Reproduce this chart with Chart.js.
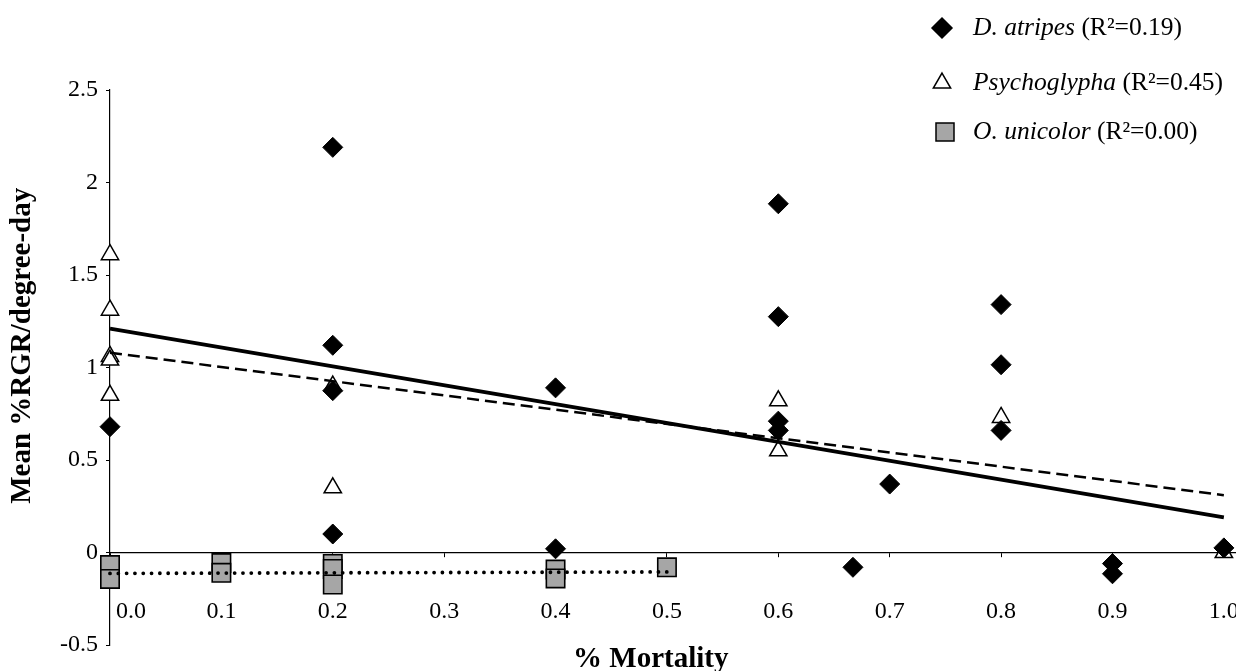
<!DOCTYPE html>
<html>
<head>
<meta charset="utf-8">
<script src="https://cdn.jsdelivr.net/npm/chart.js@4/dist/chart.umd.min.js"></script>
<style>
html,body{margin:0;padding:0;background:#ffffff;}
#wrap{width:1236px;height:671px;position:relative;}
</style>
</head>
<body>
<div id="wrap"><canvas id="c" width="1236" height="671"></canvas></div>
<script>
// ---- values ----
const atripesX = [0, 0.2, 0.2, 0.2, 0.2, 0.4, 0.4, 0.6, 0.6, 0.6, 0.6, 0.667, 0.7, 0.8, 0.8, 0.8, 0.9, 0.9, 1.0];
const atripesY = [0.68, 2.19, 1.12, 0.875, 0.10, 0.89, 0.02, 1.885, 1.275, 0.71, 0.66, -0.08, 0.37, 1.34, 1.015, 0.66, -0.06, -0.115, 0.025];
const psychoX = [0, 0, 0, 0, 0, 0.2, 0.2, 0.6, 0.6, 0.8, 1.0];
const psychoY = [1.61, 1.31, 1.06, 1.04, 0.85, 0.90, 0.35, 0.82, 0.55, 0.73, 0.0];
const unicolorX = [0, 0, 0.1, 0.1, 0.2, 0.2, 0.2, 0.4, 0.4, 0.5];
const unicolorY = [-0.068, -0.143, -0.057, -0.11, -0.062, -0.089, -0.173, -0.092, -0.14, -0.08];
const atripesTrendX = [0, 1.0];
const atripesTrendY = [1.21, 0.19];
const psychoTrendX = [0, 1.0];
const psychoTrendY = [1.08, 0.31];
const unicolorTrendX = [0, 0.5];
const unicolorTrendY = [-0.113, -0.105];
const xTickValues = [0, 0.1, 0.2, 0.3, 0.4, 0.5, 0.6, 0.7, 0.8, 0.9, 1.0];
const xTickLabels = ['0.0', '0.1', '0.2', '0.3', '0.4', '0.5', '0.6', '0.7', '0.8', '0.9', '1.0'];
const yTickValues = [-0.5, 0, 0.5, 1, 1.5, 2, 2.5];
const yTickLabels = ['-0.5', '0', '0.5', '1', '1.5', '2', '2.5'];
const seriesNames = ['D. atripes', 'Psychoglypha', 'O. unicolor'];
const seriesR2 = ['0.19', '0.45', '0.00'];
const xTitle = '% Mortality';
const yTitle = 'Mean %RGR/degree-day';

const pts = (xs, ys) => xs.map((x, i) => ({ x: x, y: ys[i] }));
const SERIF = '"Liberation Serif", "Times New Roman", Times, serif';
const squareFill = '#a6a6a6';

// legend with mixed italic / roman text
const legendPlugin = {
  id: 'customLegend',
  afterDraw(chart) {
    const ctx = chart.ctx;
    const markerX = 942, textX = 973;
    const rows = [28, 83, 132];
    ctx.save();
    rows.forEach((y, i) => {
      ctx.beginPath();
      ctx.lineWidth = 1.5;
      ctx.strokeStyle = '#000';
      if (i === 0) {
        const r = 10;
        ctx.moveTo(markerX - r, y); ctx.lineTo(markerX, y - r);
        ctx.lineTo(markerX + r, y); ctx.lineTo(markerX, y + r); ctx.closePath();
        ctx.fillStyle = '#000'; ctx.fill(); ctx.stroke();
      } else if (i === 1) {
        const r = 10;
        ctx.moveTo(markerX, y - r);
        ctx.lineTo(markerX + r * Math.sin(2 * Math.PI / 3), y - r * Math.cos(2 * Math.PI / 3));
        ctx.lineTo(markerX + r * Math.sin(4 * Math.PI / 3), y - r * Math.cos(4 * Math.PI / 3));
        ctx.closePath();
        ctx.fillStyle = '#fff'; ctx.fill(); ctx.stroke();
      } else {
        const h = 9;
        ctx.rect(markerX + 3 - h, y - h, 2 * h, 2 * h);
        ctx.fillStyle = squareFill; ctx.fill(); ctx.stroke();
      }
      ctx.fillStyle = '#000';
      ctx.textBaseline = 'middle';
      ctx.textAlign = 'left';
      ctx.font = 'italic 25.5px ' + SERIF;
      ctx.fillText(seriesNames[i], textX, y);
      const w = ctx.measureText(seriesNames[i]).width;
      ctx.font = '25.5px ' + SERIF;
      ctx.fillText(' (R\u00b2=' + seriesR2[i] + ')', textX + w, y);
    });
    ctx.restore();
  }
};

new Chart(document.getElementById('c'), {
  type: 'scatter',
  data: {
    datasets: [
      { label: 'O. unicolor trend', data: pts(unicolorTrendX, unicolorTrendY),
        showLine: true, pointRadius: 0, pointHoverRadius: 0,
        borderColor: '#000', borderWidth: 3.8, borderDash: [0.01, 8.3], borderCapStyle: 'round', clip: false },
      { label: 'D. atripes trend', data: pts(atripesTrendX, atripesTrendY),
        showLine: true, pointRadius: 0, pointHoverRadius: 0,
        borderColor: '#000', borderWidth: 3.8, clip: false },
      { label: 'Psychoglypha trend', data: pts(psychoTrendX, psychoTrendY),
        showLine: true, pointRadius: 0, pointHoverRadius: 0,
        borderColor: '#000', borderWidth: 2.5, borderDash: [12, 6], clip: false },
      { label: 'D. atripes', data: pts(atripesX, atripesY),
        pointStyle: 'rectRot', pointRadius: 10, pointHoverRadius: 10,
        backgroundColor: '#000', borderColor: '#000', borderWidth: 1, clip: false },
      { label: 'Psychoglypha', data: pts(psychoX, psychoY),
        pointStyle: 'triangle', pointRadius: 10, pointHoverRadius: 10,
        backgroundColor: '#fff', borderColor: '#000', borderWidth: 1.5, clip: false },
      { label: 'O. unicolor', data: pts(unicolorX, unicolorY),
        pointStyle: 'rect', pointRadius: 13, pointHoverRadius: 13,
        backgroundColor: squareFill, borderColor: '#000', borderWidth: 1.6, clip: false }
    ]
  },
  options: {
    responsive: false,
    animation: false,
    devicePixelRatio: 1,
    layout: { autoPadding: false, padding: { left: 0, right: 1, top: 90, bottom: 26 } },
    plugins: { legend: { display: false }, tooltip: { enabled: false }, title: { display: false } },
    scales: {
      x: {
        type: 'linear',
        position: { y: 0 },
        min: 0,
        max: 1.01,
        afterBuildTicks: (s) => { s.ticks = xTickValues.map(v => ({ value: v })); },
        afterFit: (s) => { s.paddingLeft = 0; s.paddingRight = 0; },
        ticks: {
          color: '#000', font: { family: SERIF, size: 24 }, padding: 41, maxRotation: 0, autoSkip: false,
          callback: (v, i) => (i === 0 ? '       ' : '') + xTickLabels[i]
        },
        grid: { display: true, drawOnChartArea: false, drawTicks: true, tickLength: 4, color: '#000' },
        border: { display: true, color: '#000', width: 1.2 },
        title: {
          display: true, text: xTitle + '      ', color: '#000',
          font: { family: SERIF, size: 29, weight: 'bold' }, padding: { top: -25, bottom: 0 }
        }
      },
      y: {
        type: 'linear',
        position: 'left',
        min: -0.5,
        max: 2.5,
        afterBuildTicks: (s) => { s.ticks = yTickValues.map(v => ({ value: v })); },
        afterFit: (s) => { s.width = 110; },
        ticks: { color: '#000', font: { family: SERIF, size: 24 }, padding: 8, callback: (v, i) => yTickLabels[i] },
        grid: { display: true, drawOnChartArea: false, drawTicks: true, tickLength: 4, color: '#000' },
        border: { display: true, color: '#000', width: 1.2 },
        title: {
          display: true, text: '      ' + yTitle, color: '#000',
          font: { family: SERIF, size: 29, weight: 'bold' }, padding: { top: 5, bottom: 0 }
        }
      }
    }
  },
  plugins: [legendPlugin]
});
</script>
</body>
</html>
